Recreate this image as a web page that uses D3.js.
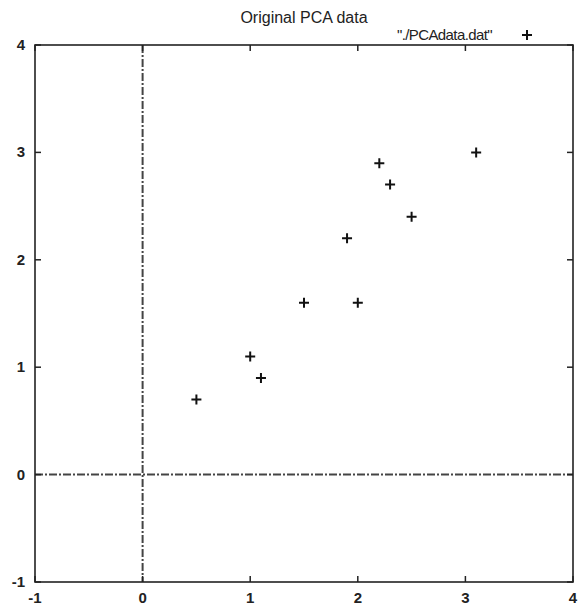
<!DOCTYPE html>
<html>
<head>
<meta charset="utf-8">
<script src="https://cdn.jsdelivr.net/npm/d3@7"></script>
<style>
  body { margin: 0; background: #fff; }
  text { font-family: "Liberation Sans", Arial, sans-serif; fill: #222; }
</style>
</head>
<body>
<svg id="chart" width="578" height="605"></svg>
<script>
// data from ./PCAdata.dat
const xVals = [2.5, 0.5, 2.2, 1.9, 3.1, 2.3, 2.0, 1.0, 1.5, 1.1];
const yVals = [2.4, 0.7, 2.9, 2.2, 3.0, 2.7, 1.6, 1.1, 1.6, 0.9];
const tickVals = [-1, 0, 1, 2, 3, 4];

const margin = { left: 35, top: 45, right: 5, bottom: 23 };
const width = 578, height = 605;

const svg = d3.select("#chart");

const x = d3.scaleLinear().domain([-1, 4]).range([margin.left, width - margin.right]);
const y = d3.scaleLinear().domain([-1, 4]).range([height - margin.bottom, margin.top]);

// zero axes (dash-dot)
svg.append("line")
    .attr("x1", x(0)).attr("x2", x(0))
    .attr("y1", y(4)).attr("y2", y(-1))
    .attr("stroke", "#444").attr("stroke-width", 2)
    .attr("stroke-dasharray", "8,2,2,2");
svg.append("line")
    .attr("x1", x(-1)).attr("x2", x(4))
    .attr("y1", y(0)).attr("y2", y(0))
    .attr("stroke", "#444").attr("stroke-width", 2)
    .attr("stroke-dasharray", "8,2,2,2");

// ticks on all four sides, pointing inward
const tickLen = 6;
const tickG = svg.append("g").attr("stroke", "#222").attr("stroke-width", 1.5);
tickVals.forEach(v => {
    tickG.append("line").attr("x1", x(v)).attr("x2", x(v)).attr("y1", y(-1)).attr("y2", y(-1) - tickLen);
    tickG.append("line").attr("x1", x(v)).attr("x2", x(v)).attr("y1", y(4)).attr("y2", y(4) + tickLen);
    tickG.append("line").attr("y1", y(v)).attr("y2", y(v)).attr("x1", x(-1)).attr("x2", x(-1) + tickLen);
    tickG.append("line").attr("y1", y(v)).attr("y2", y(v)).attr("x1", x(4)).attr("x2", x(4) - tickLen);
});

// frame
svg.append("rect")
    .attr("x", x(-1)).attr("y", y(4))
    .attr("width", x(4) - x(-1)).attr("height", y(-1) - y(4))
    .attr("fill", "none").attr("stroke", "#222").attr("stroke-width", 1.6);

// tick labels
svg.append("g").selectAll("text")
    .data(tickVals).join("text")
    .attr("x", d => x(d)).attr("y", height - 2)
    .attr("text-anchor", "middle")
    .attr("font-size", 15).attr("font-weight", "bold")
    .text(d => d);

svg.append("g").selectAll("text")
    .data(tickVals).join("text")
    .attr("x", 25).attr("y", d => y(d) + 5)
    .attr("text-anchor", "end")
    .attr("font-size", 15).attr("font-weight", "bold")
    .text(d => d);

// title
svg.append("text")
    .attr("x", (x(-1) + x(4)) / 2).attr("y", 23)
    .attr("text-anchor", "middle")
    .attr("font-size", 16)
    .text("Original PCA data");

// points as plus signs
const s = 5;
const pts = svg.append("g").attr("stroke", "#111").attr("stroke-width", 2);
xVals.forEach((xv, i) => {
    const px = x(xv), py = y(yVals[i]);
    pts.append("path").attr("d", `M${px - s},${py}H${px + s}M${px},${py - s}V${py + s}`);
});

// legend
svg.append("text")
    .attr("x", 492).attr("y", 40)
    .attr("text-anchor", "end")
    .attr("font-size", 15)
    .attr("letter-spacing", -0.6)
    .text("\"./PCAdata.dat\"");
svg.append("path")
    .attr("d", `M${527 - s},35H${527 + s}M527,${35 - s}V${35 + s}`)
    .attr("stroke", "#111").attr("stroke-width", 2);
</script>
</body>
</html>
